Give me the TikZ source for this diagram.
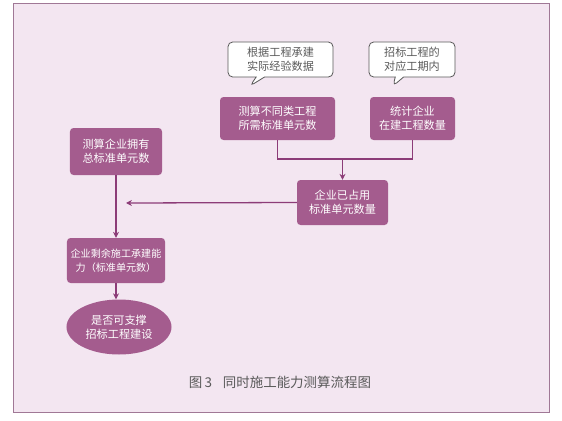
\documentclass[tikz,border=0pt]{standalone}
\usepackage{fontspec}
\usepackage{xcolor}
\setmainfont{Noto Sans CJK SC}
\usetikzlibrary{arrows.meta,positioning,shapes.geometric,shapes.callouts,calc}
\definecolor{bg}{RGB}{243,230,241}
\definecolor{frame}{RGB}{160,120,150}
\definecolor{plum}{RGB}{164,92,142}
\definecolor{wire}{RGB}{140,60,120}
\definecolor{note}{RGB}{90,90,90}

\begin{document}
\begin{tikzpicture}[x=0.03cm, y=-0.03cm,
    box/.style={rounded corners=3pt, fill=plum, text=white, align=center,
                font=\fontsize{9.5}{12}\selectfont, inner sep=2pt},
    oval/.style={ellipse, fill=plum, text=white, align=center,
                 font=\fontsize{9.5}{12}\selectfont, inner sep=1pt},
    tip/.style={rectangle callout, rounded corners=4pt, draw=note, fill=white,
                text=note, align=center, font=\fontsize{9.5}{12}\selectfont,
                minimum height=1.05cm, line width=0.7pt},
    arr/.style={-{Stealth[length=5pt,width=5pt]}, line width=1.1pt, wire},
    ln/.style={line width=1.1pt, wire}]

    % ── frame ────────────────────────────────────────────────
    \useasboundingbox (0,0) rectangle (562,420);
    \draw[frame, fill=bg, line width=0.8pt] (13,3) rectangle (549,412);

    % ── notes ────────────────────────────────────────────────
    \node[tip, minimum width=3.15cm, callout absolute pointer={(250,86)}] (n1) at (280.5,59.5)
      {根据工程承建\\实际经验数据};
    \node[tip, minimum width=2.58cm, callout absolute pointer={(393,86)}] (n2) at (412,59.5)
      {招标工程的\\对应工期内};

    % ── steps ────────────────────────────────────────────────
    \node[box, minimum width=3.45cm, minimum height=1.29cm] (a1) at (277.5,118.5)
      {测算不同类工程\\所需标准单元数};
    \node[box, minimum width=2.55cm, minimum height=1.29cm] (a2) at (412.5,118.5)
      {统计企业\\在建工程数量};
    \node[box, minimum width=2.73cm, minimum height=1.35cm] (c1) at (342.5,202.5)
      {企业已占用\\标准单元数量};
    \node[box, minimum width=2.76cm, minimum height=1.41cm] (d1) at (116,151.5)
      {测算企业拥有\\总标准单元数};
    \node[box, minimum width=2.94cm, minimum height=1.35cm,
          font=\fontsize{8.6}{12}\selectfont] (e1) at (116,260.5)
      {企业剩余施工承建能\\力（标准单元数）};
    \node[oval, minimum width=3.15cm, minimum height=1.65cm] (f1) at (119,327)
      {是否可支撑\\招标工程建设};

    % ── connectors ───────────────────────────────────────────
    \coordinate (j1) at (342.5,159);
    \coordinate (m1) at (126,203);
    \draw[ln] (a1.south) |- (j1) -| (a2.south);
    \draw[arr] (j1) -- (c1.north);
    \draw[arr] (c1.west) -- (m1);
    \draw[arr] (d1.south) -- (e1.north);
    \draw[arr] (e1.south) -- (e1.south |- f1.north);

    % ── caption ──────────────────────────────────────────────
    \node[text=black!65, font=\fontsize{11.5}{13}\selectfont] (cap) at (280,382)
      {图\,3\hspace{0.8em}同时施工能力测算流程图};

\end{tikzpicture}
\end{document}
